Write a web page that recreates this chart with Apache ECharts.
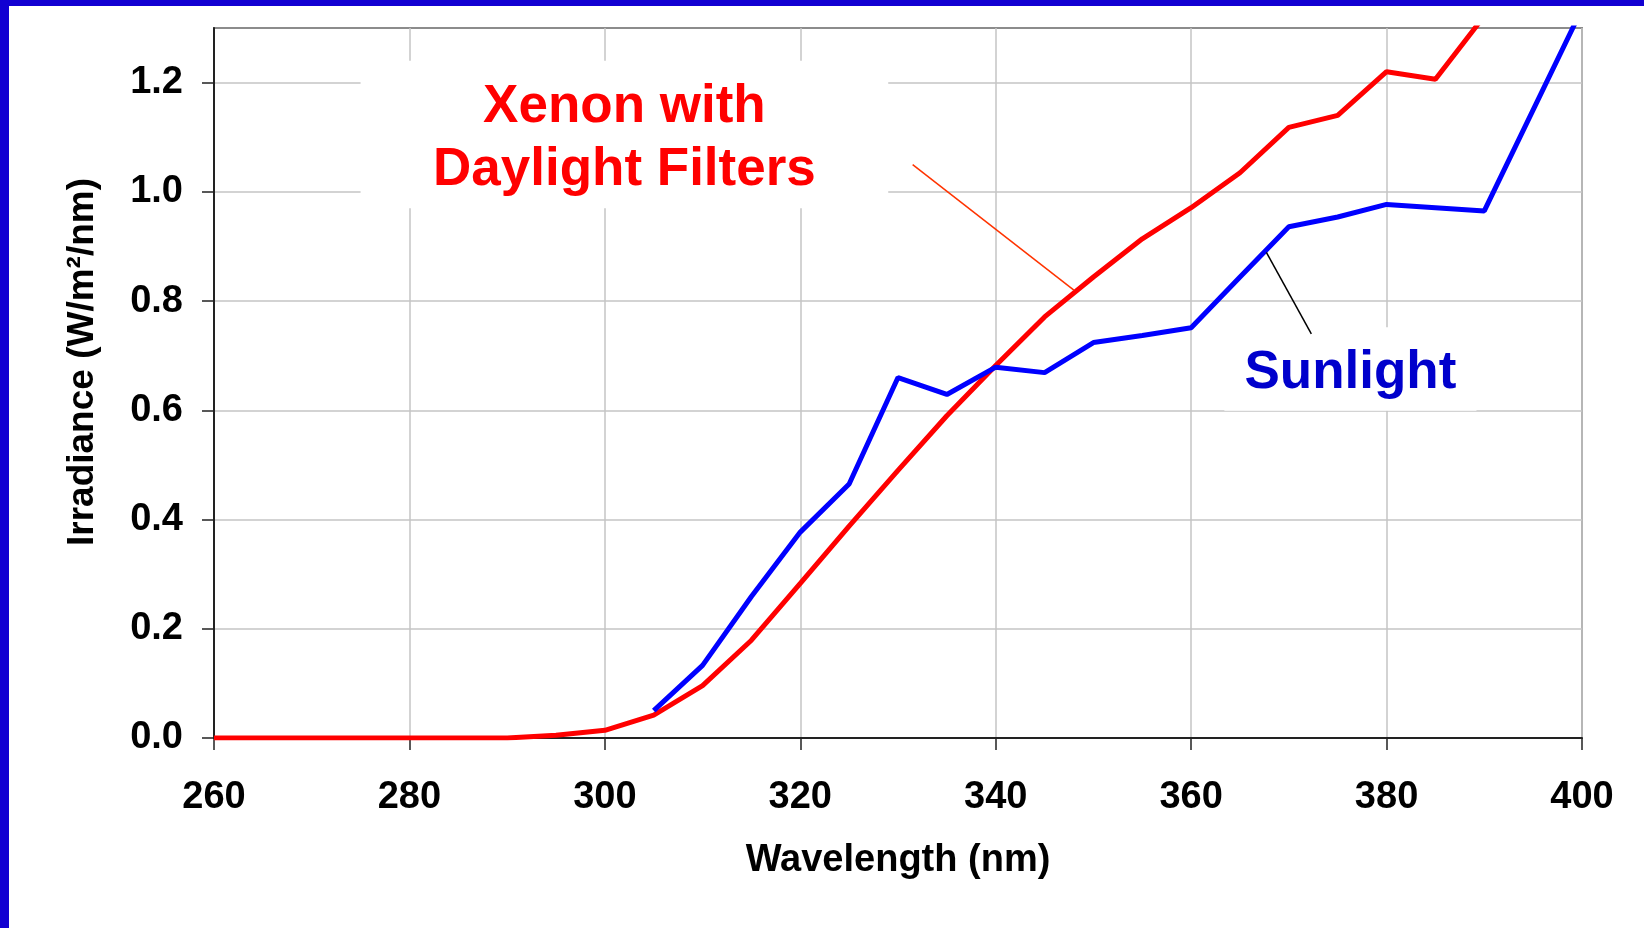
<!DOCTYPE html>
<html>
<head>
<meta charset="utf-8">
<script src="https://cdn.jsdelivr.net/npm/echarts@6/dist/echarts.min.js"></script>
<style>
  html, body { margin: 0; padding: 0; background: #ffffff; }
  #chart { width: 1644px; height: 928px; }
</style>
</head>
<body>
<div id="chart"></div>
<script>
// Spectral irradiance in the UV range, xenon lamp vs. sunlight
const xenonWavelengths = [260, 265, 270, 275, 280, 285, 290, 295, 300, 305, 310, 315, 320, 325, 330,
                          335, 340, 345, 350, 355, 360, 365, 370, 375, 380, 385, 390];
const xenonIrradiance  = [0, 0, 0, 0, 0, 0, 0, 0.005, 0.014, 0.042, 0.096, 0.179, 0.283, 0.388, 0.490,
                          0.590, 0.682, 0.771, 0.844, 0.914, 0.971, 1.035, 1.118, 1.140, 1.220, 1.206, 1.322];

const sunWavelengths = [305, 310, 315, 320, 325, 330, 335, 340, 345, 350, 355, 360, 365, 370, 375,
                        380, 385, 390, 400];
const sunIrradiance  = [0.050, 0.133, 0.259, 0.377, 0.465, 0.660, 0.629, 0.679, 0.669, 0.724, 0.737,
                        0.751, 0.844, 0.936, 0.954, 0.977, 0.971, 0.965, 1.335];

const xTickValues = [260, 280, 300, 320, 340, 360, 380, 400];
const yTickValues = [0, 0.2, 0.4, 0.6, 0.8, 1.0, 1.2];

const xenonLabel = 'Xenon with\nDaylight Filters';
const sunLabel = 'Sunlight';

const FONT = "'Liberation Sans', Arial, sans-serif";
const zip = (xs, ys) => xs.map((x, i) => [x, ys[i]]);

const chart = echarts.init(document.getElementById('chart'), null, { renderer: 'canvas' });

const axisText = { fontFamily: FONT, fontWeight: 'bold', fontSize: 38, color: '#000000' };

chart.setOption({
  animation: false,
  backgroundColor: '#ffffff',
  grid: {
    left: 214, right: 62, top: 28, bottom: 190,
    show: true, borderColor: '#8c8c8c', borderWidth: 2
  },
  xAxis: {
    type: 'value', min: 260, max: 400, interval: 10,
    name: 'Wavelength (nm)', nameLocation: 'middle', nameGap: 104,
    nameTextStyle: axisText,
    axisLine: { lineStyle: { color: '#222222', width: 2 } },
    axisTick: { customValues: xTickValues, length: 12, lineStyle: { color: '#222222', width: 1.5 } },
    axisLabel: Object.assign({ customValues: xTickValues, margin: 41, formatter: v => String(v) }, axisText),
    splitLine: { show: true, lineStyle: { color: '#c4c4c4', width: 1.5 } }
  },
  yAxis: {
    type: 'value', min: 0, max: 1.3, interval: 0.1,
    name: 'Irradiance (W/m²/nm)', nameLocation: 'middle', nameGap: 113,
    nameTextStyle: Object.assign({ padding: [0, 0, 0, 42] }, axisText, { fontSize: 37 }),
    axisLine: { lineStyle: { color: '#222222', width: 2 } },
    axisTick: { customValues: yTickValues, length: 12, lineStyle: { color: '#222222', width: 1.5 } },
    axisLabel: Object.assign({ customValues: yTickValues, margin: 31, formatter: v => v.toFixed(1) }, axisText),
    splitLine: { show: true, lineStyle: { color: '#c4c4c4', width: 1.5 } }
  },
  series: [
    {
      name: 'Xenon with Daylight Filters',
      type: 'line',
      data: zip(xenonWavelengths, xenonIrradiance),
      showSymbol: false,
      clip: true,
      lineStyle: { color: '#ff0000', width: 5 },
      itemStyle: { color: '#ff0000' },
      markArea: {
        silent: true,
        emphasis: { disabled: true },
        itemStyle: { color: '#ffffff', opacity: 1, borderWidth: 0 },
        label: {
          show: true, position: 'inside', align: 'center', verticalAlign: 'middle', offset: [0, 4],
          fontFamily: FONT, fontWeight: 'bold', fontSize: 53, lineHeight: 63, color: '#ff0000'
        },
        data: [[{ name: xenonLabel, coord: [275.0, 1.240] }, { coord: [329.0, 0.970] }]]
      },
      markLine: {
        silent: true,
        symbol: 'none',
        label: { show: false },
        emphasis: { disabled: true },
        lineStyle: { color: '#ff3300', width: 1.5, type: 'solid' },
        data: [[{ coord: [331.5, 1.050] }, { coord: [348.0, 0.820] }]]
      }
    },
    {
      name: 'Sunlight',
      type: 'line',
      data: zip(sunWavelengths, sunIrradiance),
      showSymbol: false,
      clip: true,
      lineStyle: { color: '#0000ff', width: 5 },
      itemStyle: { color: '#0000ff' },
      markArea: {
        silent: true,
        emphasis: { disabled: true },
        itemStyle: { color: '#ffffff', opacity: 1, borderWidth: 0 },
        label: {
          show: true, position: 'inside', align: 'center', verticalAlign: 'middle', offset: [0, 4],
          fontFamily: FONT, fontWeight: 'bold', fontSize: 53, color: '#0000cc'
        },
        data: [[{ name: sunLabel, coord: [363.4, 0.752] }, { coord: [389.2, 0.599] }]]
      },
      markLine: {
        silent: true,
        symbol: 'none',
        label: { show: false },
        emphasis: { disabled: true },
        lineStyle: { color: '#000000', width: 1.5, type: 'solid' },
        data: [[{ coord: [367.7, 0.889] }, { coord: [372.3, 0.740] }]]
      }
    }
  ],
  graphic: [
    // slide frame along the top and left edges
    { type: 'rect', left: 0, top: 0, z: 100, shape: { width: 9, height: 928 }, style: { fill: '#1200d2' } },
    { type: 'rect', left: 0, top: 0, z: 100, shape: { width: 1644, height: 6 }, style: { fill: '#1200d2' } }
  ]
});
</script>
</body>
</html>
